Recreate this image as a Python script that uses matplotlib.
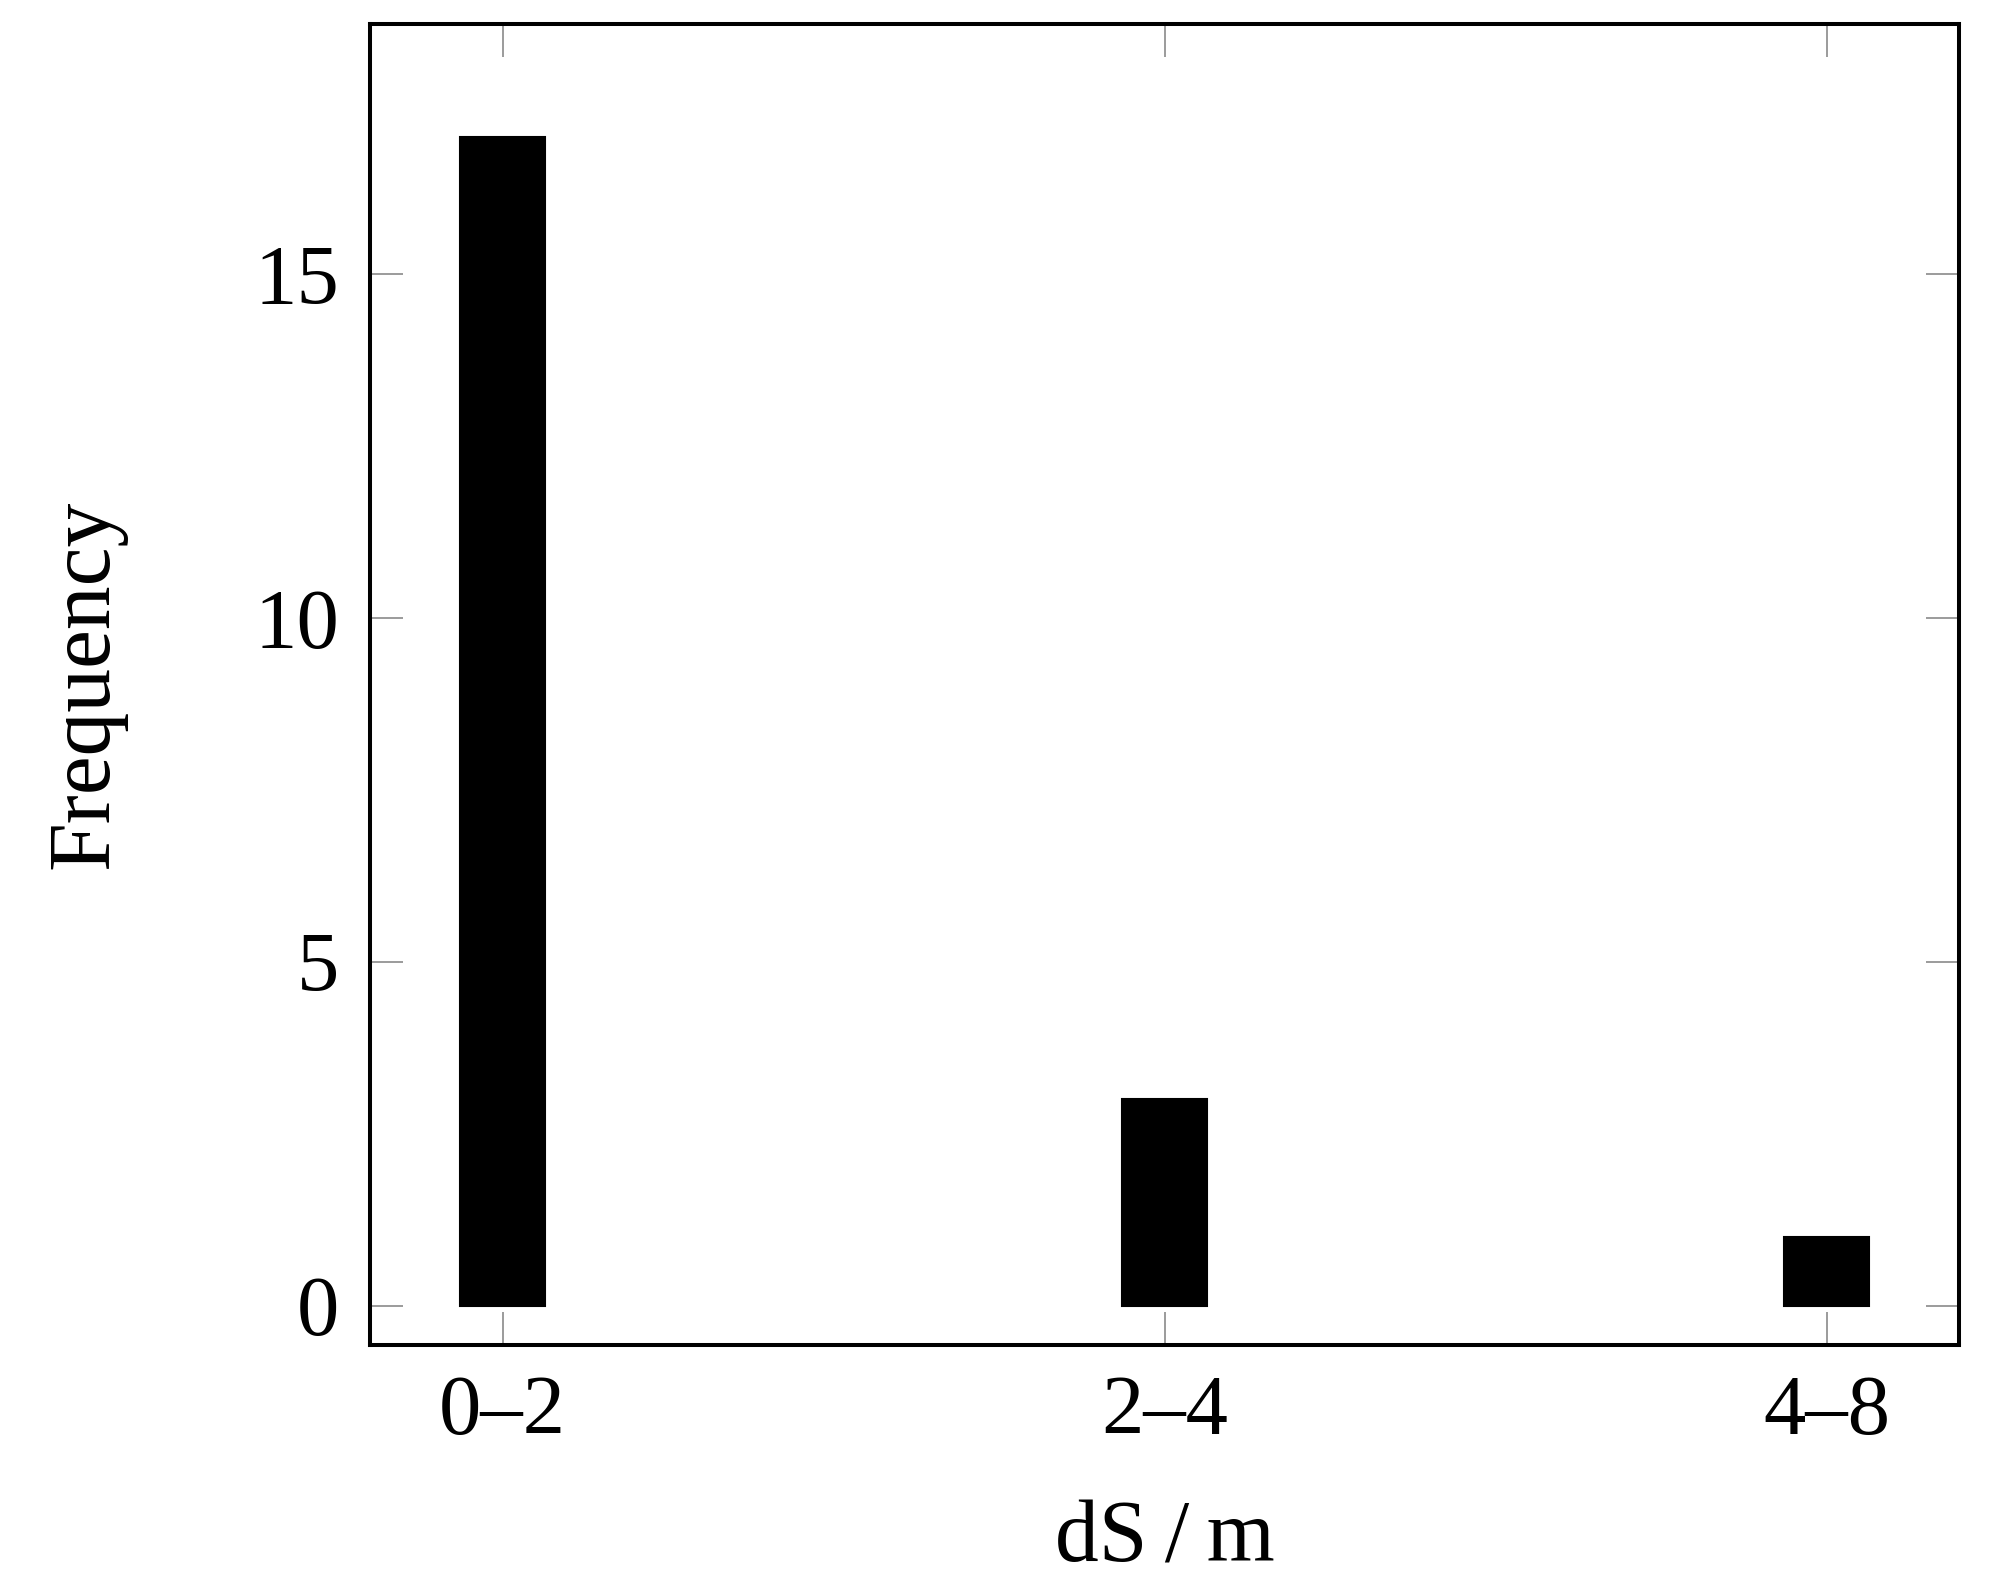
import matplotlib
matplotlib.use("Agg")
import matplotlib.pyplot as plt

# histogram of salinity classes
categories = ["0\u20132", "2\u20134", "4\u20138"]
frequency = [17, 3, 1]
y_ticks = [0, 5, 10, 15]

plt.rcParams['font.family'] = ['Liberation Serif', 'DejaVu Serif']
plt.rcParams['font.size'] = 60

fig = plt.figure(figsize=(19.93, 15.89), dpi=100)
ax = fig.add_axes([0.1857, 0.1536, 0.983 - 0.1857, 0.9849 - 0.1536])

pos = list(range(len(categories)))
ax.bar(pos, frequency, width=0.129, color='black', edgecolor='black', linewidth=1.5)

ax.set_xlim(-0.2, 2.2)
ax.set_ylim(-0.573, 18.64)
ax.set_xticks(pos)
ax.set_xticklabels(categories)
ax.set_yticks(y_ticks)

for s in ax.spines.values():
    s.set_linewidth(2.9)

ax.tick_params(direction='in', length=24, width=1.1, color='#808080',
               top=True, right=True, labelsize=61)
ax.tick_params(axis='y', pad=22)
ax.tick_params(axis='x', pad=22)

ax.set_xlabel("dS\u2009/\u2009m", fontsize=63, labelpad=34)
ax.set_ylabel("Frequency", fontsize=63, labelpad=92)

fig.savefig("out.png", dpi=100)
